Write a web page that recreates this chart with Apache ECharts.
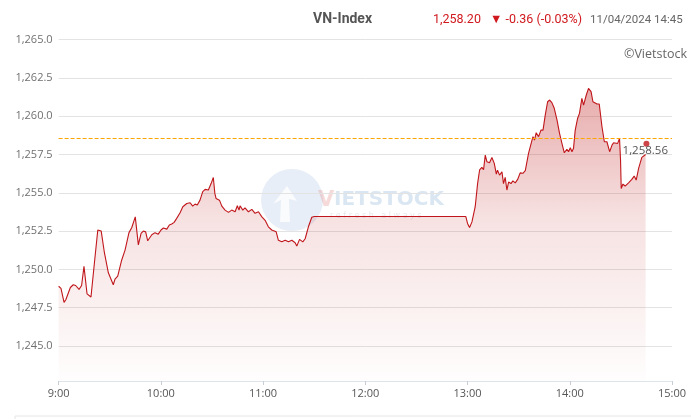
<!DOCTYPE html>
<html>
<head>
<meta charset="utf-8">
<script src="https://cdn.jsdelivr.net/npm/echarts@6/dist/echarts.min.js"></script>
<style>
html,body{margin:0;padding:0;background:#fff;}
#c{width:691px;height:419px;}
</style>
</head>
<body>
<div id="c"></div>
<script>
// minutes after 9:00
const times = [0,1.4,3.2,4.3,5.3,6.9,8.6,10,12,13.5,14.9,16.7,19,21,23,24.1,25,26.8,29.2,32.1,33.1,34.7,37,39,41.3,42.9,45,46.8,48.4,49.7,51.1,52.3,54.7,56.6,58.5,60.1,61.5,63.5,65,66.4,67.8,69.3,71.3,72.9,75.2,77.2,78.7,80.1,81.4,83,84.6,86,87.9,89.5,90.8,91.7,92.4,94.4,95.8,97.7,99.7,101.6,103.6,104.9,105.9,106.5,108.1,109.4,111.4,113.4,115.3,117.3,119.3,121.2,123.1,125.1,127.7,129,131,133,134.9,136.9,138.8,139.8,141.4,143.3,144.7,146.6,148.6,150,239,240,241.2,242.6,244.5,245.9,247.1,248.4,249.4,250.4,251.4,252.9,254.3,255.7,256.9,257.6,258.8,260.2,261.1,262.1,263.1,264.1,265.5,266.6,268,269.4,270.9,272.5,273.9,275.8,276.8,278.4,279.3,280.3,281.7,283.1,284.3,285.6,287,288.2,289.5,290.9,292.5,294,295.4,296.8,298.3,299.3,300.3,301.3,302.2,303.2,304.6,305.7,307.1,308.1,309.7,311,312.5,313.6,314.4,316,317.3,318.9,320.3,321.8,323.4,324.8,325.7,326.7,328.1,329.2,329.8,330.2,331.2,332.5,334.5,336.4,337.8,339,340.4,342.3,344.5];
const values = [1248.9,1248.76,1247.85,1248.04,1248.0,1248.82,1249.0,1248.95,1248.7,1248.95,1250.2,1248.4,1248.2,1250.4,1252.57,1252.65,1252.5,1251.15,1249.78,1249.0,1249.37,1249.56,1250.6,1251.26,1252.4,1252.72,1253.43,1251.6,1252.35,1252.5,1252.45,1251.87,1252.26,1252.4,1252.3,1252.57,1252.7,1252.63,1252.9,1252.96,1253.07,1253.33,1253.7,1254.09,1254.3,1254.35,1254.13,1254.26,1254.2,1254.52,1255.07,1255.22,1255.18,1255.6,1256.0,1254.96,1254.63,1254.52,1254.13,1253.87,1253.72,1253.87,1253.76,1254.15,1253.87,1254.15,1253.87,1254.02,1253.76,1253.92,1253.66,1253.76,1253.43,1253.2,1252.78,1252.57,1252.45,1251.9,1251.8,1251.9,1251.8,1251.9,1251.74,1251.52,1251.96,1251.8,1252.0,1252.78,1253.4,1253.45,1253.45,1253.0,1252.74,1253.1,1254.09,1255.6,1256.5,1256.66,1256.5,1257.46,1257.02,1256.96,1257.3,1256.92,1256.22,1256.48,1256.15,1256.37,1255.6,1256.0,1255.18,1255.7,1255.6,1255.78,1255.65,1255.87,1256.3,1256.27,1256.44,1257.57,1258.0,1258.66,1258.44,1258.92,1258.66,1259.09,1259.09,1260.07,1260.94,1261.05,1260.88,1260.51,1259.75,1258.88,1258.22,1257.61,1257.83,1257.68,1257.94,1257.68,1257.9,1259.09,1259.86,1260.18,1261.16,1260.72,1261.38,1261.81,1261.6,1260.94,1260.84,1260.79,1260.79,1259.31,1258.33,1258.33,1257.68,1258.11,1258.26,1258.18,1258.22,1258.55,1257.13,1255.28,1255.57,1255.44,1255.65,1255.87,1256.09,1255.83,1256.59,1257.31,1257.5];
const lastPoint = [345, 1258.20];
const refPrice = 1258.56;
const yTicks = [1245, 1247.5, 1250, 1252.5, 1255, 1257.5, 1260, 1262.5, 1265];
const xTickLabels = ['9:00','10:00','11:00','12:00','13:00','14:00','15:00'];
const title = 'VN-Index';
const priceText = '1,258.20';
const changeText = '▼ -0.36 (-0.03%)';
const dateText = '11/04/2024 14:45';

const fmt = v => v.toLocaleString('en-US', {minimumFractionDigits: 1, maximumFractionDigits: 1});
const seriesData = times.map((t, i) => [t, values[i]]);

const chart = echarts.init(document.getElementById('c'), null, {renderer: 'canvas'});
chart.setOption({
  animation: false,
  backgroundColor: '#fff',
  grid: {left: 58.6, right: 19, top: 39.5, bottom: 38},
  xAxis: {
    type: 'value', min: 0, max: 360, interval: 60,
    axisLine: {show: true, lineStyle: {color: '#dfe3ea', width: 1}},
    axisTick: {show: true, length: 4, lineStyle: {color: '#c8ced8'}},
    splitLine: {show: false},
    axisLabel: {
      color: '#555', fontSize: 11, fontFamily: 'Open Sans', margin: 7,
      formatter: v => xTickLabels[Math.round(v / 60)]
    }
  },
  yAxis: {
    type: 'value', min: 1242.72, max: 1265,
    axisLine: {show: false},
    axisTick: {show: false, customValues: yTicks},
    splitLine: {show: true, lineStyle: {color: '#e3e3e3', width: 1}},
    axisLabel: {
      customValues: yTicks,
      color: '#707070', fontSize: 11, fontFamily: 'Open Sans', margin: 6,
      formatter: v => fmt(v)
    }
  },
  graphic: [
    {type: 'text', left: 313, top: 12, style: {text: title, fill: '#555', font: 'bold 14px Roboto'}},
    {type: 'text', left: 433, top: 13, style: {text: priceText, fill: '#d0191e', font: '12.5px Roboto'}},
    {type: 'text', left: 490, top: 13, style: {text: changeText, fill: '#d0191e', font: '12.5px Roboto'}},
    {type: 'text', left: 590, top: 14, style: {text: dateText, fill: '#666', font: '11.5px Roboto'}},
    {type: 'text', left: 624, top: 48, style: {text: '©Vietstock', fill: '#666', font: '12.5px "Open Sans"'}},
    {type: 'circle', shape: {cx: 292, cy: 200, r: 31}, style: {fill: 'rgba(175,200,228,0.3)'}, z: 0},
    {type: 'polyline', shape: {points: [[280, 222], [281, 200], [273, 204], [287, 186], [297, 201], [289, 199], [290, 222]]}, style: {fill: 'rgba(255,255,255,0.75)', stroke: 'none'}, z: 0},
    {type: 'text', left: 318, top: 190, style: {text: 'V', fill: 'rgba(230,150,150,0.35)', font: 'bold 21px "DejaVu Sans"'}, z: 0},
    {type: 'text', left: 334, top: 190, style: {text: 'IETSTOCK', fill: 'rgba(150,185,220,0.35)', font: 'bold 20px "DejaVu Sans"'}, z: 0},
    {type: 'text', left: 330, top: 212, style: {text: 'r e f r e s h   a l w a y s', fill: 'rgba(180,180,190,0.3)', font: '8px "DejaVu Sans"'}, z: 0},
    {type: 'rect', shape: {x: 15, y: 416, width: 700, height: 30}, style: {fill: 'none', stroke: '#e6e6e6', lineWidth: 1}}
  ],
  series: [
    {
      type: 'line',
      data: seriesData,
      showSymbol: false,
      symbol: 'none',
      lineStyle: {color: '#c0161b', width: 1.1},
      areaStyle: {
        color: new echarts.graphic.LinearGradient(0, 0, 0, 1, [
          {offset: 0, color: 'rgba(190,25,25,0.52)'},
          {offset: 0.45, color: 'rgba(190,25,25,0.18)'},
          {offset: 1, color: 'rgba(190,25,25,0.01)'}
        ])
      },
      markLine: {
        silent: true,
        symbol: 'none',
        lineStyle: {color: '#ffa500', type: 'dashed', width: 1},
        label: {
          position: 'insideEndBottom', distance: [4, 7],
          color: '#555', fontSize: 11.5, fontFamily: 'Open Sans',
          formatter: () => refPrice.toLocaleString('en-US', {minimumFractionDigits: 2})
        },
        data: [{yAxis: refPrice}]
      },
      z: 2
    },
    {
      type: 'scatter',
      data: [lastPoint],
      symbol: 'circle',
      symbolSize: 6,
      itemStyle: {color: '#c0161b'},
      z: 3
    }
  ]
});
</script>
</body>
</html>
